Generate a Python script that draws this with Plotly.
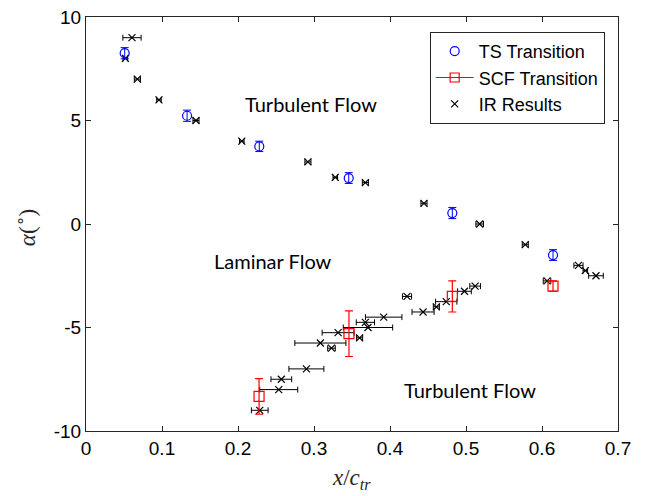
import plotly.graph_objects as go

# TS Transition (blue circles)
ts_x = [0.0509, 0.133, 0.228, 0.3457, 0.482, 0.6145]
ts_y = [8.25, 5.23, 3.75, 2.22, 0.53, -1.5]
ts_err = [0.27, 0.27, 0.25, 0.26, 0.27, 0.26]

# SCF Transition (red squares)
scf_x = [0.2277, 0.346, 0.482, 0.6145]
scf_y = [-8.33, -5.3, -3.5, -3.0]
scf_err = [0.86, 1.1, 0.75, 0.25]

# IR Results (black crosses, horizontal error)
ir_x = [0.0605, 0.0518, 0.0676, 0.096, 0.1447, 0.205, 0.292, 0.328, 0.3676,
        0.4447, 0.518, 0.578, 0.648, 0.657, 0.671, 0.6066, 0.512, 0.498,
        0.4224, 0.474, 0.461, 0.4435, 0.3917, 0.3676, 0.371, 0.3317, 0.360,
        0.3084, 0.323, 0.290, 0.257, 0.2536, 0.2286]
ir_y = [9.0, 8.0, 7.0, 6.0, 5.0, 4.0, 3.0, 2.25, 2.0,
        1.0, 0.0, -1.0, -2.0, -2.25, -2.5, -2.75, -3.0, -3.25,
        -3.5, -3.75, -4.0, -4.25, -4.5, -4.75, -5.0, -5.25, -5.5,
        -5.75, -6.0, -7.0, -7.5, -8.0, -9.0]
ir_err = [0.012, 0.003, 0.004, 0.003, 0.004, 0.003, 0.004, 0.003, 0.004,
          0.004, 0.005, 0.004, 0.006, 0.003, 0.0096, 0.005, 0.007, 0.009,
          0.006, 0.014, 0.004, 0.0145, 0.024, 0.012, 0.0325, 0.021, 0.004,
          0.0336, 0.005, 0.023, 0.0136, 0.025, 0.011]

x_ticks = [0, 0.1, 0.2, 0.3, 0.4, 0.5, 0.6, 0.7]
x_labels = ["0", "0.1", "0.2", "0.3", "0.4", "0.5", "0.6", "0.7"]
y_ticks = [10, 5, 0, -5, -10]
y_labels = ["10", "5", "0", "-5", "-10"]

region_text = ["Turbulent Flow", "Laminar Flow", "Turbulent Flow"]
region_x = [0.2963, 0.2457, 0.5049]
region_y = [5.81, -1.77, -8.0]

x_title = "<i>x</i>/<i>c</i><sub><i>tr</i></sub>"
y_title = "<i>α</i>(<sup>∘</sup>)"

fig = go.Figure()

fig.add_trace(go.Scatter(
    x=ir_x, y=ir_y, mode="markers", name="IR Results",
    marker=dict(symbol="x-thin", size=7, color="black",
                line=dict(color="black", width=1.2)),
    error_x=dict(type="data", array=ir_err, color="black", thickness=1, width=3),
    legendrank=3,
))

fig.add_trace(go.Scatter(
    x=ts_x, y=ts_y, mode="markers", name="TS Transition",
    marker=dict(symbol="circle-open", size=9, color="#0000ff",
                line=dict(color="#0000ff", width=1.2)),
    error_y=dict(type="data", array=ts_err, color="#0000ff", thickness=1, width=4),
    legendrank=1,
))

fig.add_trace(go.Scatter(
    x=scf_x, y=scf_y, mode="markers", name="SCF Transition", showlegend=False,
    marker=dict(symbol="square-open", size=10, color="#ff0000",
                line=dict(color="#ff0000", width=1.2)),
    error_y=dict(type="data", array=scf_err, color="#ff0000", thickness=1.2, width=4),
))

# legend entry for SCF (line + marker, like the original legend)
fig.add_trace(go.Scatter(
    x=[None], y=[None], mode="lines+markers", name="SCF Transition",
    line=dict(color="#ff0000", width=1.2),
    marker=dict(symbol="square-open", size=9, color="#ff0000",
                line=dict(color="#ff0000", width=1.2)),
    legendrank=2,
))

for t, xx, yy in zip(region_text, region_x, region_y):
    fig.add_annotation(x=xx, y=yy, text=t, showarrow=False,
                       font=dict(family="Lato", size=20, color="black"))

# axis titles as paper annotations
fig.add_annotation(xref="paper", yref="paper", x=0.4994, y=-0.117,
                   xanchor="center", yanchor="middle",
                   text=x_title, showarrow=False,
                   font=dict(family="Liberation Serif", size=23, color="#262626"))
fig.add_annotation(xref="paper", yref="paper", x=-0.113, y=0.492,
                   xanchor="center", yanchor="middle",
                   text=y_title, showarrow=False, textangle=-90,
                   font=dict(family="Liberation Serif", size=23, color="#262626"))

axis_common = dict(
    showgrid=False, zeroline=False, showline=True, linecolor="#262626",
    linewidth=1, mirror="ticks", ticks="inside", ticklen=5, tickcolor="#262626",
    tickfont=dict(family="Liberation Sans", size=19, color="black"),
    automargin=False, ticklabeloverflow="allow",
)

fig.update_layout(
    width=646, height=488,
    margin=dict(l=78, r=36, t=9, b=65, autoexpand=False),
    plot_bgcolor="white", paper_bgcolor="white",
    xaxis=dict(range=[0, 0.7], tickvals=x_ticks, ticktext=x_labels, **axis_common),
    yaxis=dict(range=[-10, 10], tickvals=y_ticks, ticktext=y_labels, **axis_common),
    legend=dict(x=0.975, y=0.964, xanchor="right", yanchor="top",
                bgcolor="white", bordercolor="#262626", borderwidth=1,
                font=dict(family="Liberation Sans", size=18, color="black"),
                traceorder="normal", itemwidth=38, tracegroupgap=0),
    showlegend=True,
)

fig.write_html("out.html")
